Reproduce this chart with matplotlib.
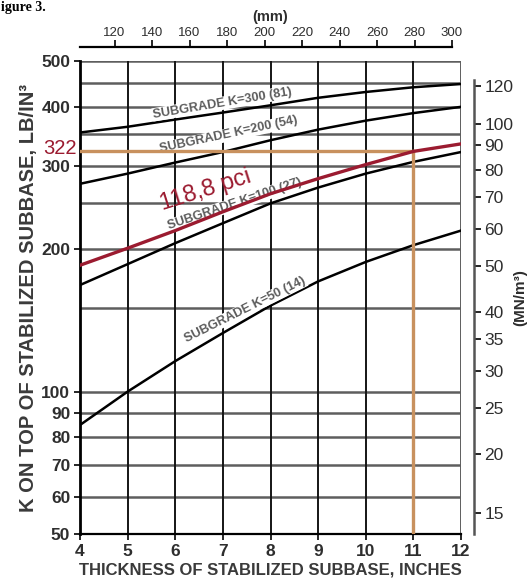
import matplotlib.pyplot as plt
from matplotlib.ticker import NullLocator, FixedLocator, FixedFormatter

plt.rcParams['font.family'] = ['Liberation Sans', 'DejaVu Sans']

# subbase thickness (inches) and k on top of subbase (pci)
thickness_in = [4, 5, 6, 7, 8, 9, 10, 11, 12]
k300 = [353, 363, 376, 389, 403, 418, 430, 440, 447]
k200 = [275, 289, 305, 321, 340, 358, 374, 388, 400]
k100 = [168, 186, 206, 227, 250, 270, 289, 306, 321]
k50 = [85, 100, 116, 133, 152, 171, 188, 204, 219]
k_design = [185, 201, 219, 240, 262, 282, 302, 322, 334]

design_thickness = 11
design_k = 322

k_grid = [50, 60, 70, 80, 90, 100, 150, 200, 250, 300, 350, 400, 450, 500]
k_ticks = [50, 60, 70, 80, 90, 100, 200, 300, 400, 500]
mm_ticks = [120, 140, 160, 180, 200, 220, 240, 260, 280, 300]
mn_ticks = [15, 20, 25, 30, 35, 40, 50, 60, 70, 80, 90, 100, 120]

PCI_TO_MN = 0.2714
IN_TO_MM = 25.4

curve_labels = [
    ('SUBGRADE K=300 (81)', 6.99, 407, 9.5),
    ('SUBGRADE K=200 (54)', 7.12, 349, 12),
    ('SUBGRADE K=100 (27)', 7.24, 249, 18.5),
    ('SUBGRADE K=50 (14)', 7.47, 149, 26.5),
]

txt = '#2e2e2e'
red = '#9b1b30'
orange = '#c8915e'

fig = plt.figure(figsize=(5.28, 5.88), dpi=100)
ax = fig.add_axes([80 / 528, 1 - 534 / 588, 381 / 528, 473 / 588])
ax.set_yscale('log')
ax.set_xlim(4, 12)
ax.set_ylim(50, 500)

for k in k_grid:
    ax.axhline(k, color='#5e5e5e', lw=1.8, zorder=1)
for t in thickness_in:
    ax.axvline(t, color='#5e5e5e' if t == 12 else '#151515', lw=1.4, zorder=1)

for vals in [k300, k200, k100, k50]:
    ax.plot(thickness_in, vals, color='black', lw=1.8, zorder=3)

for label, x, y, rot in curve_labels:
    ax.text(x, y, label, rotation=rot, rotation_mode='anchor', ha='center', va='center',
            fontsize=9.2, fontweight='bold', color='#5c5c5c', zorder=4,
            bbox=dict(facecolor='white', edgecolor='none', pad=0.5))

# design point lines
ax.plot([4, design_thickness], [design_k, design_k], color=orange, lw=2.4, zorder=5)
ax.plot([design_thickness, design_thickness], [50, design_k], color=orange, lw=2.4, zorder=5)
ax.plot(thickness_in, k_design, color=red, lw=2.4, zorder=6)
ax.text(6.63, 266, '118,8 pci', rotation=17.5, rotation_mode='anchor', ha='center', va='center',
        fontsize=17, color=red, zorder=7)
ax.text(3.93, 327, '322', ha='right', va='center', fontsize=14.5, color=red, clip_on=False)

ax.spines['top'].set_visible(False)
ax.spines['right'].set_visible(False)
ax.spines['left'].set_linewidth(2)
ax.spines['bottom'].set_linewidth(1.6)
ax.yaxis.set_major_locator(FixedLocator(k_ticks))
ax.yaxis.set_major_formatter(FixedFormatter([str(k) for k in k_ticks]))
ax.yaxis.set_minor_locator(NullLocator())
ax.set_xticks(thickness_in)
ax.tick_params(axis='both', direction='out', length=4, width=1.2, labelsize=12.5, labelcolor=txt, pad=3)
for lab in ax.get_xticklabels() + ax.get_yticklabels():
    lab.set_fontweight('bold')
ax.set_xlabel('THICKNESS OF STABILIZED SUBBASE, INCHES', fontsize=12, fontweight='bold', color='#3a3a3a', labelpad=3)
ax.set_ylabel('K ON TOP OF STABILIZED SUBBASE, LB/IN³', fontsize=14.5, fontweight='bold', color='#3a3a3a', labelpad=2)

# mm scale on top
ax_mm = ax.twiny()
ax_mm.set_xlim(4 * IN_TO_MM, 12 * IN_TO_MM)
for s in ['bottom', 'left', 'right']:
    ax_mm.spines[s].set_visible(False)
ax_mm.spines['top'].set_position(('outward', 10))
ax_mm.spines['top'].set_linewidth(1.6)
ax_mm.spines['top'].set_bounds(4 * IN_TO_MM, 300)
ax_mm.set_xticks(mm_ticks)
ax_mm.tick_params(axis='x', direction='out', length=5, width=1.2, labelsize=9.5, labelcolor=txt, pad=1)
ax_mm.set_xlabel('(mm)', fontsize=10.5, fontweight='bold', color=txt, labelpad=4)

# MN/m3 scale on right
ax_mn = ax.twinx()
ax_mn.set_yscale('log')
ax_mn.set_ylim(50 * PCI_TO_MN, 500 * PCI_TO_MN)
for s in ['bottom', 'left', 'top']:
    ax_mn.spines[s].set_visible(False)
ax_mn.spines['right'].set_position(('outward', 9))
ax_mn.spines['right'].set_color('#555555')
ax_mn.spines['right'].set_linewidth(1.8)
ax_mn.spines['right'].set_bounds(50 * PCI_TO_MN, 124)
ax_mn.yaxis.set_major_locator(FixedLocator(mn_ticks))
ax_mn.yaxis.set_major_formatter(FixedFormatter([str(v) for v in mn_ticks]))
ax_mn.yaxis.set_minor_locator(NullLocator())
ax_mn.tick_params(axis='y', direction='out', length=5, width=1.2, labelsize=12.5, labelcolor=txt, pad=3)
ax_mn.set_ylabel('(MN/m³)', fontsize=11, fontweight='bold', color=txt, labelpad=0)

fig.text(0.002, 0.999, 'igure 3.', fontsize=10, fontweight='bold', family='Liberation Serif', va='top')

fig.savefig('out.png', dpi=100)
